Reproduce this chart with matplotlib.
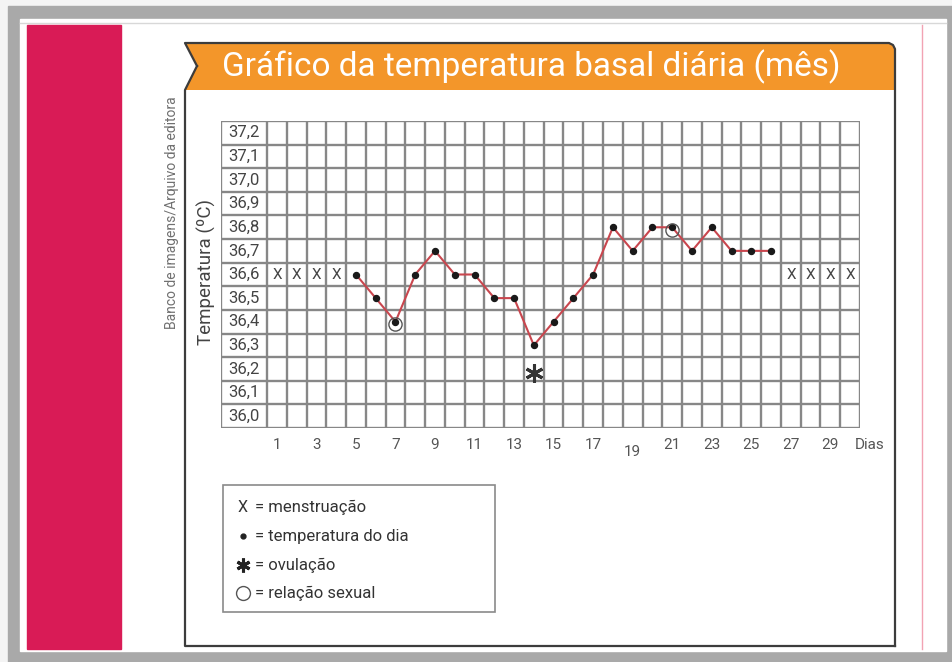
import matplotlib
matplotlib.use("Agg")
import matplotlib.pyplot as plt
from matplotlib.patches import Rectangle, Polygon
from matplotlib.transforms import blended_transform_factory

# dados do gráfico
days = list(range(5, 27))
temps = [36.6, 36.5, 36.4, 36.6, 36.7, 36.6, 36.6, 36.5, 36.5, 36.3, 36.4,
         36.5, 36.6, 36.8, 36.7, 36.8, 36.8, 36.7, 36.8, 36.7, 36.7, 36.7]
menstruation_days = [1, 2, 3, 4, 27, 28, 29, 30]
menstruation_temp = 36.6
ovulation_day = 14
ovulation_temp = 36.2
sex_days = [7, 21]
temp_levels = [36.0, 36.1, 36.2, 36.3, 36.4, 36.5, 36.6, 36.7, 36.8, 36.9, 37.0, 37.1, 37.2]
day_ticks = [1, 3, 5, 7, 9, 11, 13, 15, 17, 19, 21, 23, 25, 27, 29]
n_days = 30

title = "Gráfico da temperatura basal diária (mês)"
legend_items = [("X", "menstruação"), ("•", "temperatura do dia"),
                ("*", "ovulação"), ("o", "relação sexual")]

plt.rcParams['font.family'] = ['Roboto', 'DejaVu Sans']

fig = plt.figure(figsize=(9.52, 6.62), dpi=100)
fig.patch.set_facecolor('#f4f4f4')

# fundo / moldura (coordenadas em pixels)
bg = fig.add_axes([0, 0, 1, 1])
bg.set_xlim(0, 952)
bg.set_ylim(662, 0)
bg.axis('off')
bg.add_patch(Rectangle((8, 6), 944, 656, color='#a9a9a9', zorder=0))
bg.add_patch(Rectangle((20, 19), 926, 632, color='white', zorder=1))
bg.plot([20, 946], [23, 23], color='#d8d8d8', lw=1, zorder=1)
bg.add_patch(Rectangle((27, 25), 94, 624, color='#d91b56', zorder=2))
bg.plot([922, 922], [25, 649], color='#f2a3b3', lw=1, zorder=2)

# faixa laranja do título
banner = [(185, 43), (889, 43), (893, 45), (895, 49), (895, 90), (185, 90), (197, 66)]
bg.add_patch(Polygon(banner, closed=True, facecolor='#f3962a', edgecolor='none', zorder=3))
bg.plot([197, 185, 889, 893, 895, 895], [66, 43, 43, 45, 49, 646], color='#3c3c3c', lw=1.6, zorder=4)
bg.plot([197, 185, 185, 895], [66, 90, 646, 646], color='#3c3c3c', lw=1.6, zorder=4)
bg.text(222, 67, title, color='white', fontsize=24, va='center', ha='left', zorder=5)

bg.text(172, 213, "Banco de imagens/Arquivo da editora", rotation=90, fontsize=10,
        color='#707070', ha='center', va='center', zorder=5)
bg.text(206, 272, "Temperatura (ºC)", rotation=90, fontsize=13.5,
        color='#444444', ha='center', va='center', zorder=5)

# legenda
bg.add_patch(Rectangle((223, 485), 272, 127, facecolor='white', edgecolor='#8a8a8a', lw=1.2, zorder=3))
leg_y = [507, 536, 565, 593]
for (sym, lab), y in zip(legend_items, leg_y):
    if sym == "X":
        bg.text(243, y, "X", fontsize=11.5, color='#333333', ha='center', va='center', zorder=5)
    elif sym == "•":
        bg.plot(243, y, 'o', ms=3.5, color='#222222', zorder=5)
    elif sym == "*":
        bg.plot(243, y, marker=(6, 2, 0), ms=10, mew=2.2, color='#222222', zorder=5)
    else:
        bg.plot(243, y, 'o', ms=10, mfc='none', mec='#555555', mew=1.0, zorder=5)
    bg.text(255, y, "= " + lab, fontsize=12, color='#333333', ha='left', va='center', zorder=5)

# grade do gráfico
x_left = 0.5 - 46 / 19.77
ax = fig.add_axes([221 / 952, (662 - 428) / 662, 639 / 952, 307 / 662])
ax.set_xlim(x_left, n_days + 0.5)
ax.set_ylim(temp_levels[0] - 0.05, temp_levels[-1] + 0.05)
ax.axis('off')

grid_c = '#878787'
xs = [d - 0.5 for d in range(1, n_days + 2)]
ys = [t - 0.05 for t in temp_levels] + [temp_levels[-1] + 0.05]
ax.vlines(xs + [x_left], ys[0], ys[-1], color=grid_c, lw=1.7, zorder=1)
ax.hlines(ys, x_left, xs[-1], color=grid_c, lw=1.7, zorder=1)

for t in temp_levels:
    ax.text((x_left + 0.5) / 2, t, f"{t:.1f}".replace('.', ','), fontsize=12,
            color='#444444', ha='center', va='center', zorder=3)

for d in menstruation_days:
    ax.text(d, menstruation_temp, "X", fontsize=11, color='#444444',
            ha='center', va='center', zorder=3)

ax.plot(days, temps, color='#c9464e', lw=1.5, zorder=3)
ax.plot(days, temps, 'o', ms=4.3, color='#1a1a1a', zorder=4)

for d in sex_days:
    ax.plot(d, temps[days.index(d)] - 0.01, 'o', ms=9.5, mfc='none', mec='#555555', mew=1.0, zorder=5)

ax.plot(ovulation_day, ovulation_temp - 0.015, marker=(6, 2, 0), ms=13, mew=2.2,
        color='#333333', zorder=5)

tr = blended_transform_factory(ax.transData, ax.transAxes)
for d in day_ticks:
    dy = -0.078 if d == 19 else -0.055
    ax.text(d, dy, str(d), transform=tr, fontsize=11, color='#555555',
            ha='center', va='center', clip_on=False)
ax.text(n_days + 1, -0.055, "Dias", transform=tr, fontsize=11, color='#555555',
        ha='center', va='center', clip_on=False)

fig.savefig("out.png", dpi=100, facecolor=fig.get_facecolor())
